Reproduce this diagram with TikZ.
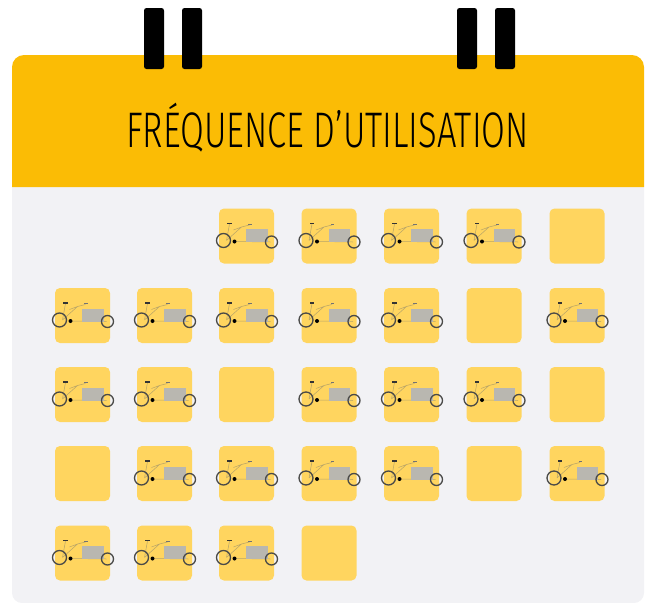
\documentclass[tikz,border=0pt]{standalone}
\usepackage{fontspec}
\newfontfamily\titlefont[FakeStretch=0.69]{Fira Sans Light}
\definecolor{headerc}{HTML}{FBBC05}
\definecolor{bodyc}{HTML}{F2F2F5}
\definecolor{cellc}{HTML}{FFD55F}
\definecolor{wheelc}{HTML}{4A4A48}
\definecolor{cargoc}{HTML}{B9B7B0}
\definecolor{framec}{HTML}{B8A468}
\tikzset{
  x=1pt,y=-1pt,
  cell/.style={fill=cellc,draw=none,rounded corners=5pt,minimum width=55pt,minimum height=55pt,inner sep=0pt},
  ring/.style={fill=black,draw=none,rounded corners=2.5pt},
  wheel/.style={draw=wheelc,line width=1.3pt},
  pics/bike/.style={code={
    \draw[framec,line width=.5pt] (-20,4.5) -- (-17,-12) (-20,4.5) -- (-5,-9) -- (3,-11) (-12,5.5) -- (24,6) (-13,-6) -- (-5,-9);
    \fill[cargoc] (-.5,-7) rectangle (21,6);
    \fill[black] (-12,5.5) circle (2pt);
    \fill[black!80] (-19.5,-13.4) rectangle (-15,-11.8);
    \fill[black!55] (1.5,-12.5) rectangle (5,-11.3);
    \draw[wheel] (-23,4.5) circle (7pt);
    \draw[wheel] (25,6) circle (6pt);
  }}
}
\newcommand{\bikecell}[3]{\node[cell] (#1) at (#2,#3) {}; \pic at (#1.center) {bike};}
\newcommand{\plaincell}[3]{\node[cell] (#1) at (#2,#3) {};}
\begin{document}
\begin{tikzpicture}
\useasboundingbox (0,0) rectangle (646,603);
\fill[bodyc,rounded corners=10pt] (12,150) rectangle (644,603);
\fill[headerc] (12,187) [rounded corners=12pt] -- (12,55) -- (644,55) [sharp corners] -- (644,187) -- cycle;
\fill[ring] (144,8) rectangle (164,69);
\fill[ring] (182,8) rectangle (202,69);
\fill[ring] (457,8) rectangle (477,69);
\fill[ring] (495,8) rectangle (515,69);
\node[inner sep=0pt,text=black,font=\titlefont\fontsize{50}{50}\selectfont] (title) at (327.5,128) {FRÉQUENCE D’UTILISATION};
% row 1
\bikecell{a3}{246.5}{236}\bikecell{a4}{329}{236}\bikecell{a5}{411.5}{236}\bikecell{a6}{494}{236}\plaincell{a7}{577}{236}
% row 2
\bikecell{b1}{82.5}{315.5}\bikecell{b2}{164.5}{315.5}\bikecell{b3}{246.5}{315.5}\bikecell{b4}{329}{315.5}\bikecell{b5}{411.5}{315.5}\plaincell{b6}{494}{315.5}\bikecell{b7}{577}{315.5}
% row 3
\bikecell{c1}{82.5}{394.5}\bikecell{c2}{164.5}{394.5}\plaincell{c3}{246.5}{394.5}\bikecell{c4}{329}{394.5}\bikecell{c5}{411.5}{394.5}\bikecell{c6}{494}{394.5}\plaincell{c7}{577}{394.5}
% row 4
\plaincell{d1}{82.5}{473.5}\bikecell{d2}{164.5}{473.5}\bikecell{d3}{246.5}{473.5}\bikecell{d4}{329}{473.5}\bikecell{d5}{411.5}{473.5}\plaincell{d6}{494}{473.5}\bikecell{d7}{577}{473.5}
% row 5
\bikecell{e1}{82.5}{553}\bikecell{e2}{164.5}{553}\bikecell{e3}{246.5}{553}\plaincell{e4}{329}{553}
\end{tikzpicture}
\end{document}
